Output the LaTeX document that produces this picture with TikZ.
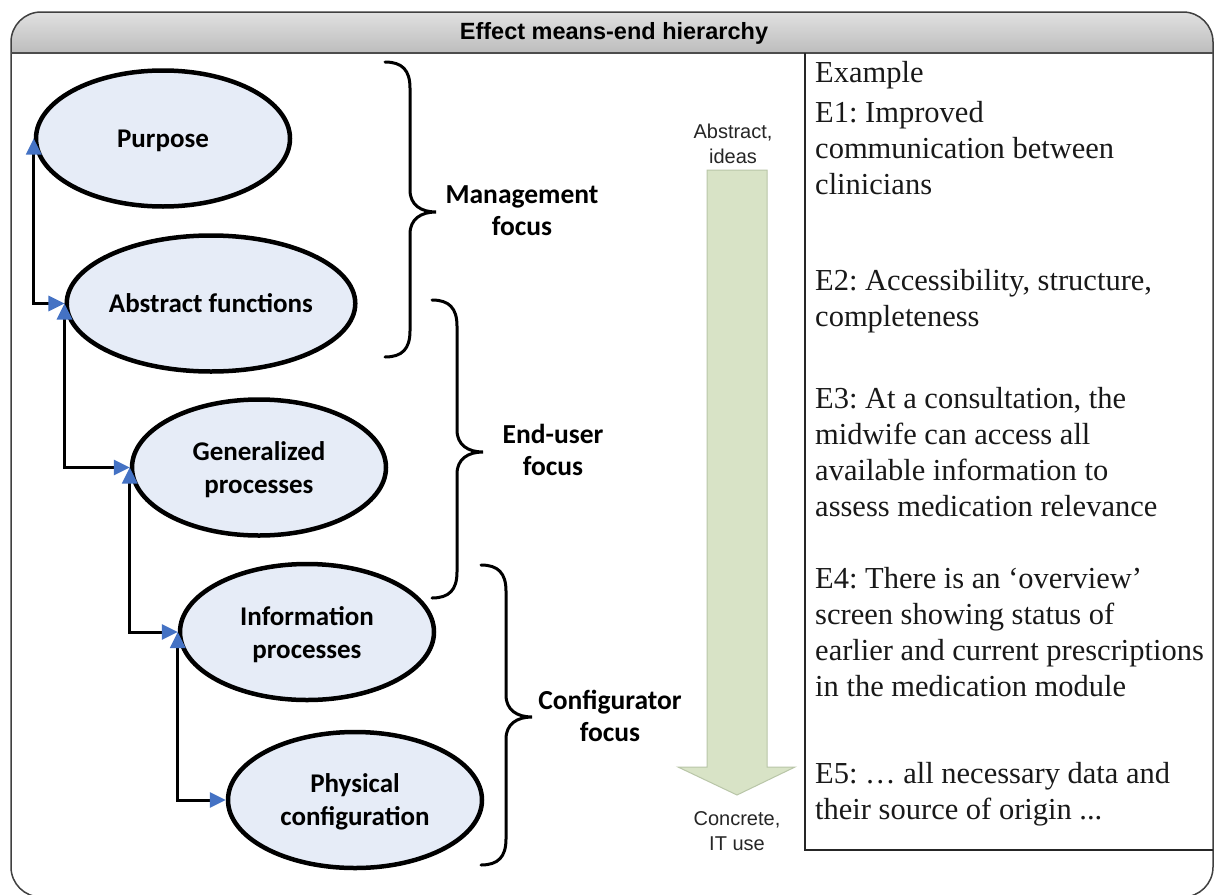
\documentclass[tikz,border=0pt]{standalone}
\usepackage{fontspec}
\setmainfont{Liberation Serif}
\newfontfamily\calib{Carlito}
\newfontfamily\arialf{Liberation Sans}
\usetikzlibrary{arrows.meta,shapes.geometric}
\frenchspacing
\definecolor{ellfill}{RGB}{230,236,247}
\definecolor{arrowblue}{RGB}{68,114,196}
\definecolor{greenfill}{RGB}{216,227,198}
\definecolor{greenedge}{RGB}{185,198,168}
\newcommand{\mybrace}[4]{%
  \draw[bracestyle] (#1,#2) .. controls ({#1+17},#2) and ({#1+25},{#2+8}) .. ({#1+25},{#2+26})
    -- ({#1+25},{#4-22}) .. controls ({#1+25},{#4-7}) and ({#1+36},#4) .. ({#1+51},#4)
    .. controls ({#1+36},#4) and ({#1+25},{#4+7}) .. ({#1+25},{#4+22})
    -- ({#1+25},{#3-26}) .. controls ({#1+25},{#3-8}) and ({#1+17},#3) .. (#1,#3);}
\begin{document}
\begin{tikzpicture}[x=1pt,y=-1pt,
  ell/.style={ellipse, draw=black, line width=4.5pt, fill=ellfill, minimum width=254pt,
    minimum height=136pt, inner sep=0pt, align=center, text depth=0pt,
    font=\calib\bfseries\fontsize{27}{33}\selectfont},
  conn/.style={line width=3pt, black,
    {Triangle[length=16pt,width=15pt,color=arrowblue]}-{Triangle[length=16pt,width=15pt,color=arrowblue]}},
  bracestyle/.style={line width=3pt, black, line cap=round},
  lbl/.style={align=center, inner sep=0pt, font=\calib\bfseries\fontsize{27.5}{32}\selectfont},
  smalltxt/.style={align=center, inner sep=0pt, text=black!85, font=\arialf\fontsize{20}{25}\selectfont},
  extext/.style={align=left, inner sep=0pt, anchor=north west, text=black!90,
    font=\fontsize{30.5}{36}\selectfont},
  titletxt/.style={inner sep=0pt, font=\arialf\bfseries\fontsize{23.5}{27}\selectfont}
]
\useasboundingbox (0,0) rectangle (1215,894);
\clip (0,0) rectangle (1215,894);
\fill[white] (0,0) rectangle (1215,894);
% frame and header
\begin{scope}
  \clip[rounded corners=30pt] (11,12) rectangle (1213,897);
  \shade[top color=black!12, middle color=black!2, bottom color=black!26] (11,12) rectangle (1213,53);
\end{scope}
\draw[line width=1.5pt, black!75, rounded corners=30pt] (11,12) rectangle (1213,897);
\draw[line width=2pt, black!70] (11,53) -- (1213,53);
\node[titletxt, anchor=base] (title) at (614,39.5) {Effect means-end hierarchy};
% example box
\draw[line width=1.6pt, black!85] (805,53) -- (805,850) -- (1213,850);
\node[extext] (ex) at (815,60) {\rule{0pt}{22pt}Example};
\node[extext] (e1) at (815,100) {\rule{0pt}{22pt}E1: Improved\\communication between\\clinicians};
\node[extext] (e2) at (815,268) {\rule{0pt}{22pt}E2: Accessibility, structure,\\completeness};
\node[extext] (e3) at (815,386) {\rule{0pt}{22pt}E3: At a consultation, the\\midwife can access all\\available information to\\assess medication relevance};
\node[extext] (e4) at (815,566) {\rule{0pt}{22pt}E4: There is an ‘overview’\\screen showing status of\\earlier and current prescriptions\\in the medication module};
\node[extext] (e5) at (815,761) {\rule{0pt}{22pt}E5: … all necessary data and\\their source of origin ...};
% green arrow
\draw[fill=greenfill, draw=greenedge, line width=1pt] (707,170) -- (767,170) -- (767,767) -- (795,767)
  -- (737,795) -- (678,767) -- (707,767) -- cycle;
\node[smalltxt] (abs) at (733,144) {Abstract,\\ideas};
\node[smalltxt] (con) at (737,831) {Concrete,\\IT use};
% ellipses
\node[ell] (p) at (163,138.5) {Purpose};
\node[ell] (a) at (211,303.5) {Abstract functions};
\node[ell] (g) at (259,467.5) {Generalized\\processes};
\node[ell] (i) at (307,632) {Information\\processes};
\node[ell] (c) at (355,800) {Physical\\configuration};
% connectors
\draw[conn] (p.west) |- (a.west);
\draw[conn] (a.west) |- (g.west);
\draw[conn] (g.west) |- (i.west);
\draw[conn] (i.west) |- (c.west);
% braces
\mybrace{385}{62}{357}{212}
\mybrace{432}{300}{598}{452}
\mybrace{481}{565}{865}{717}
\node[lbl] (mf) at (522,211) {Management\\focus};
\node[lbl] (ef) at (553,450) {End-user\\focus};
\node[lbl] (cf) at (610,716) {Configurator\\focus};
\end{tikzpicture}
\end{document}
